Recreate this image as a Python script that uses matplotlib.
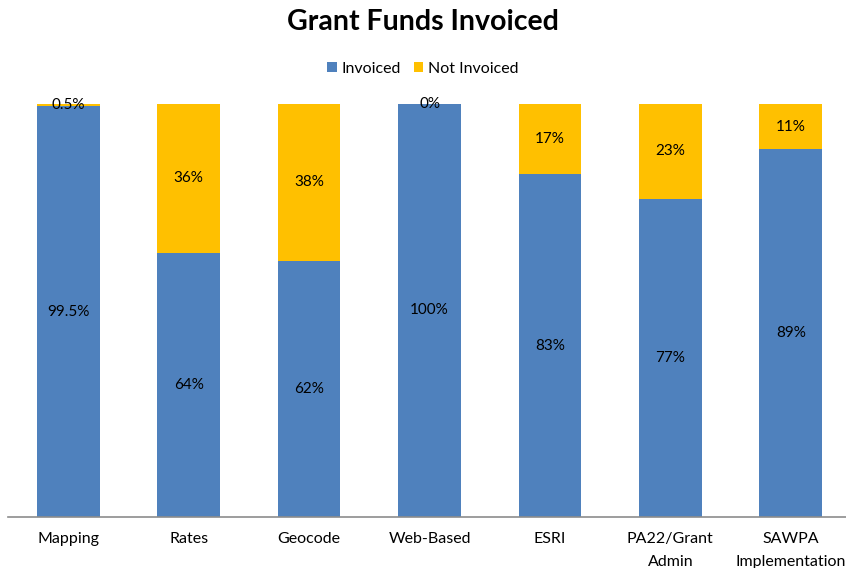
import matplotlib
matplotlib.use("Agg")
import matplotlib.pyplot as plt
import numpy as np

categories = ["Mapping", "Rates", "Geocode", "Web-Based", "ESRI", "PA22/Grant\nAdmin", "SAWPA\nImplementation"]
invoiced = [99.5, 64, 62, 100, 83, 77, 89]
not_invoiced = [0.5, 36, 38, 0, 17, 23, 11]
inv_labels = ["99.5%", "64%", "62%", "100%", "83%", "77%", "89%"]
not_labels = ["0.5%", "36%", "38%", "0%", "17%", "23%", "11%"]

plt.rcParams['font.family'] = ['Lato', 'DejaVu Sans']

fig = plt.figure(figsize=(8.46, 5.68), dpi=100)
ax = fig.add_axes([8/846, 1-517/568, (851-8)/846, (517-104)/568])

x = np.arange(len(categories))
w = 0.52
blue = "#4F81BD"
yellow = "#FFC000"
b1 = ax.bar(x, invoiced, w, color=blue, label="Invoiced")
b2 = ax.bar(x, not_invoiced, w, bottom=invoiced, color=yellow, label="Not Invoiced")

for i in range(len(categories)):
    ax.text(x[i], invoiced[i]/2, inv_labels[i], ha='center', va='center', fontsize=11, color='black')
    ax.text(x[i], invoiced[i] + not_invoiced[i]/2, not_labels[i], ha='center', va='center', fontsize=11, color='black')

ax.set_xlim(-0.5, 6.5)
ax.set_ylim(0, 100)
ax.set_yticks([])
ax.set_xticks(x)
ax.set_xticklabels(categories, fontsize=11.5, linespacing=1.75)
ax.tick_params(axis='x', length=0, pad=11)
for s in ['top', 'left', 'right']:
    ax.spines[s].set_visible(False)
ax.spines['bottom'].set_color('#8c8c8c')
ax.spines['bottom'].set_linewidth(1.2)

fig.text(0.5, 1-22/568, "Grant Funds Invoiced", ha='center', va='center', fontsize=20.5, fontweight='bold')
fig.legend(handles=[b1[0], b2[0]],
           labels=["Invoiced", "Not Invoiced"], loc='center', bbox_to_anchor=(0.5, 1-69/568),
           ncol=2, frameon=False, fontsize=11.5, handlelength=0.6, handleheight=0.6,
           handletextpad=0.3, columnspacing=0.8)

fig.savefig("out.png", dpi=100)
